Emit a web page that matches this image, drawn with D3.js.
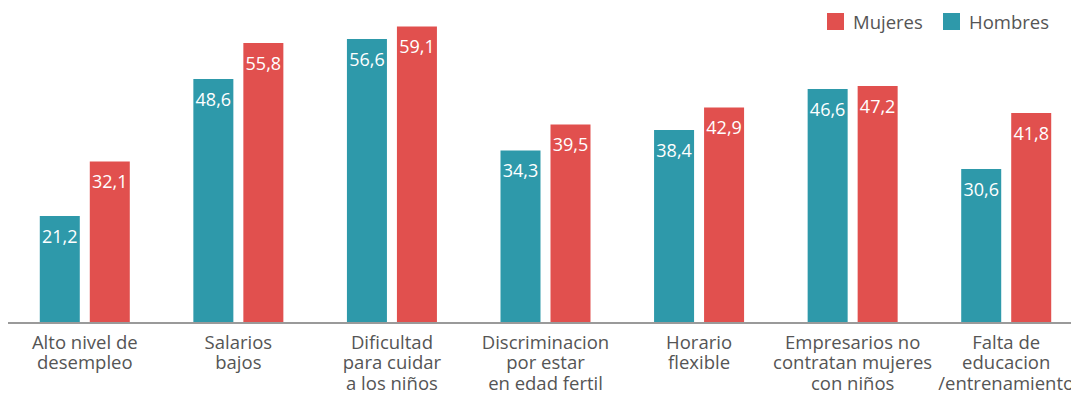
<!DOCTYPE html>
<html><head><meta charset="utf-8">
<script src="https://cdn.jsdelivr.net/npm/d3@7"></script>
<style>body{margin:0;background:#fff}svg{display:block}</style>
</head><body>
<svg id="c" width="1071" height="394"></svg>
<script>
const categories = ["Alto nivel de\ndesempleo","Salarios\nbajos","Dificultad\npara cuidar\na los niños","Discriminacion\npor estar\nen edad fertil","Horario\nflexible","Empresarios no\ncontratan mujeres\ncon niños","Falta de\neducacion\n/entrenamiento"];
const hombres = [21.2, 48.6, 56.6, 34.3, 38.4, 46.6, 30.6];
const mujeres = [32.1, 55.8, 59.1, 39.5, 42.9, 47.2, 41.8];
const seriesNames = ["Hombres","Mujeres"];
const legendOrder = ["Mujeres","Hombres"];

const colors = {Hombres:"#2e99aa", Mujeres:"#e1504e"};
const font = "'Open Sans', sans-serif";
const svg = d3.select("#c");
const x = d3.scaleBand().domain(categories).range([8, 1083]).paddingInner(0).paddingOuter(0);
const x1 = d3.scaleBand().domain(seriesNames).range([0, 90]).paddingInner(0.2);
const y = d3.scaleLinear().domain([0, 60]).range([322, 22]);
const series = {Hombres: hombres, Mujeres: mujeres};

const g = svg.append("g");
categories.forEach((c, i) => {
  const gx = x(c) + (x.bandwidth() - 90) / 2;
  seriesNames.forEach(s => {
    const v = series[s][i];
    g.append("rect").attr("x", gx + x1(s)).attr("width", x1.bandwidth())
      .attr("y", y(v)).attr("height", y(0) - y(v)).attr("fill", colors[s]);
    g.append("text").attr("x", gx + x1(s) + x1.bandwidth()/2).attr("y", y(v) + 26.5)
      .attr("text-anchor","middle").attr("fill","#fff").attr("font-family",font)
      .attr("font-size",18).text(d3.format(".1f")(v).replace(".", ","));
  });
});

// axis
const axis = svg.append("g").attr("transform","translate(0,323)")
  .call(d3.axisBottom(x).tickSize(0).tickFormat(""));
axis.select(".domain").attr("stroke","#9a9a9a").attr("stroke-width",2).attr("d","M8,0H1071");
axis.selectAll(".tick").each(function(c){
  const t = d3.select(this).append("text").attr("fill","#555").attr("font-family",font)
    .attr("font-size",18.5).attr("text-anchor","middle");
  c.split("\n").forEach((l, j) => t.append("tspan").attr("x", 0).attr("y", 25.5 + j*20.7).text(l));
});

// legend
const leg = svg.append("g");
const legX = {Mujeres: 827, Hombres: 943};
legendOrder.forEach(s => {
  leg.append("rect").attr("x", legX[s]).attr("y", 13).attr("width", 17).attr("height", 17).attr("fill", colors[s]);
  leg.append("text").attr("x", legX[s] + 26).attr("y", 28.5).attr("fill","#555")
    .attr("font-family",font).attr("font-size",18.5).text(s);
});
</script>
</body></html>
